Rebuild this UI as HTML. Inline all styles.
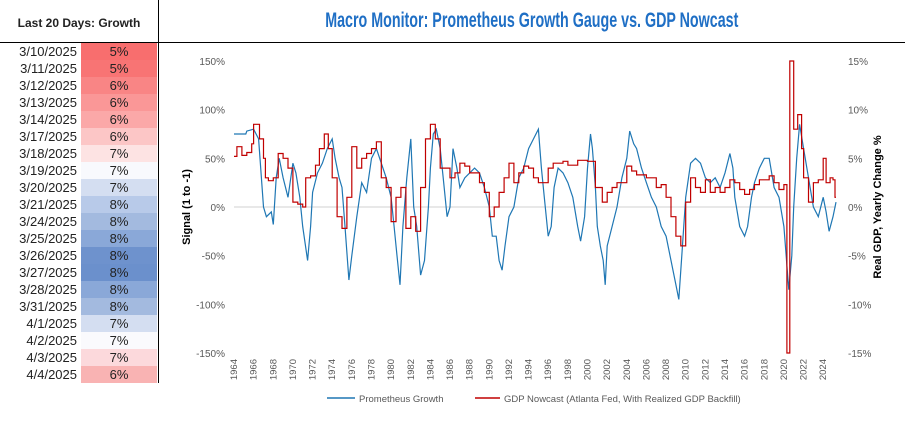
<!DOCTYPE html>
<html><head><meta charset="utf-8"><style>
html,body{margin:0;padding:0;background:#fff;width:905px;height:422px;overflow:hidden;font-family:"Liberation Sans",sans-serif;}
#wrap{position:relative;width:905px;height:422px;}
.row{position:absolute;left:0;width:158px;height:17px;font-size:13px;line-height:17px;color:#222;}
.row .d{position:absolute;left:0;width:77px;text-align:right;}
.row .v{position:absolute;left:81px;width:76px;height:17px;text-align:center;}
</style></head><body><div id="wrap">
<div style="position:absolute;left:0;top:16px;width:158px;text-align:center;font-weight:bold;font-size:12px;color:#222;">Last 20 Days: Growth</div>
<div style="position:absolute;left:0;top:42px;width:905px;height:1px;background:#000;"></div>
<div style="position:absolute;left:158px;top:0;width:1px;height:383px;background:#000;"></div>
<div style="position:absolute;left:159px;width:746px;top:9px;text-align:center;font-weight:bold;font-size:21px;color:#1f6fc5;"><span style="display:inline-block;transform:scaleX(0.68);transform-origin:center;white-space:nowrap;">Macro Monitor: Prometheus Growth Gauge vs. GDP Nowcast</span></div>
<div id="tbl"></div>
<svg id="ch" width="905" height="422" style="position:absolute;left:0;top:0;"></svg>
</div>
<script>
const dates=["3/10/2025","3/11/2025","3/12/2025","3/13/2025","3/14/2025","3/17/2025","3/18/2025","3/19/2025","3/20/2025","3/21/2025","3/24/2025","3/25/2025","3/26/2025","3/27/2025","3/28/2025","3/31/2025","4/1/2025","4/2/2025","4/3/2025","4/4/2025"];
const growthVals=["5%","5%","6%","6%","6%","6%","7%","7%","7%","8%","8%","8%","8%","8%","8%","8%","7%","7%","7%","6%"];
const cellColors=["#f86e6e","#f87474","#f98585","#fa9797","#fba8a8","#fcc6c6","#fde3e3","#f8f9fd","#d4def1","#b8cae9","#a3badf","#8aa8d8","#6e92cd","#6b90cc","#8aa8d8","#a3badf","#d4def1","#fafafd","#fcd9dc","#f9b3b3"];
const tbl=document.getElementById('tbl');
dates.forEach((d,i)=>{
 const r=document.createElement('div');r.className='row';r.style.top=(43+i*17)+'px';
 
 
 r.innerHTML='<span class="d">'+d+'</span><span class="v" style="background:'+cellColors[i]+'">'+growthVals[i]+'</span>';
 tbl.appendChild(r);
});

const blueYears=[1964,1965.2,1965.3,1966,1966.5,1967,1967.3,1967.8,1968,1968.3,1968.6,1969,1969.5,1970,1970.3,1970.7,1971,1971.5,1971.8,1972,1972.5,1973,1973.5,1974,1974.3,1974.7,1975,1975.3,1975.7,1976,1976.5,1977,1977.5,1978,1978.5,1979,1979.5,1980,1980.3,1980.6,1980.9,1981.2,1981.6,1982,1982.3,1982.6,1983,1983.4,1983.8,1984,1984.3,1984.6,1985,1985.3,1985.7,1986,1986.3,1986.7,1987,1987.5,1988,1988.5,1989,1989.5,1990,1990.3,1990.7,1991,1991.3,1991.6,1992,1992.5,1993,1993.5,1994,1994.5,1995,1995.3,1995.6,1996,1996.3,1996.6,1997,1997.5,1998,1998.5,1999,1999.3,1999.7,2000,2000.3,2000.5,2000.8,2001,2001.3,2001.6,2001.8,2002,2002.5,2003,2003.5,2004,2004.3,2004.7,2005,2005.5,2006,2006.5,2007,2007.5,2008,2008.5,2009,2009.3,2009.6,2010,2010.5,2011,2011.5,2012,2012.5,2013,2013.5,2014,2014.5,2014.8,2015,2015.5,2016,2016.3,2016.7,2017,2017.5,2018,2018.5,2019,2019.5,2020,2020.3,2020.5,2020.8,2021,2021.3,2021.6,2022,2022.5,2023,2023.5,2024,2024.3,2024.6,2025,2025.3];
const blueVals=[75,75,78,80,70,0,-10,-5,-18,30,50,30,10,45,35,10,-20,-55,-20,15,35,45,60,70,50,30,20,-20,-75,-50,-10,25,15,50,60,45,30,10,-20,-50,-80,-20,30,70,0,-20,-70,-55,0,40,75,80,60,30,-10,0,60,40,20,30,35,40,35,20,0,-30,-30,-55,-65,-40,-10,0,30,40,60,70,80,40,10,-30,-20,20,40,35,25,10,-20,-35,-10,40,75,60,20,-20,-40,-55,-80,-40,-20,0,30,50,78,65,60,40,25,10,0,-20,-30,-55,-80,-95,-50,10,45,50,45,30,25,30,20,35,55,40,10,-20,-30,-20,10,25,40,50,50,20,10,-20,-60,-85,-50,0,50,85,60,30,0,-10,10,-5,-25,-10,5];
const redYears=[1964,1964.3,1964.8,1965.3,1965.8,1966,1966.6,1967,1967.2,1967.5,1968,1968.5,1969,1969.5,1970,1970.5,1971,1971.3,1971.8,1972.3,1972.7,1973.2,1973.6,1974,1974.5,1975,1975.5,1976,1976.5,1977,1977.5,1978,1978.5,1979,1979.5,1980,1980.5,1981,1981.5,1982,1982.5,1983,1983.5,1984,1984.5,1985,1985.5,1986,1986.5,1987,1987.5,1988,1988.5,1989,1989.5,1990,1990.5,1991,1991.5,1992,1992.5,1993,1993.5,1994,1994.5,1995,1995.5,1996,1996.5,1997,1997.5,1998,1999,2000,2000.8,2001.5,2002,2002.5,2003,2004,2004.5,2005,2006,2007,2007.5,2008,2008.5,2009,2009.5,2010,2010.5,2011,2011.5,2012,2012.5,2013,2013.5,2014,2014.5,2015,2015.5,2016,2016.5,2017,2017.5,2018,2018.5,2019,2019.5,2020,2020.3,2020.6,2021,2021.4,2021.8,2022,2022.5,2023,2023.5,2024,2024.3,2024.7,2025,2025.2];
const redVals=[5.2,6.2,5.3,5.6,6.5,8.5,7,5,3,2.7,3,5.5,5,4,0.5,0.3,0,3,3.2,4.3,6,7.5,6,3,-1,-2.2,1,6.2,4,5,5.5,6,6.7,3,2,-1.5,1,2,-2.2,-1,-2.5,2,7,8.5,7,4,4,3,3.5,4.5,4.2,3.5,3.5,2.5,1.5,-1,0,1.5,3,4.5,2.5,3.5,4.2,4,3,2.5,2.5,4,4.5,4.5,4.7,4.3,4.8,4.7,2,0.5,1.5,2,2.5,4.2,3.7,3.3,3,2,2.3,1,-1,-3,-4,0.5,3,2,1.5,2.8,1.5,2,1.5,2,2.8,2.5,1.8,1.3,1.8,2.3,2.8,2.8,3.2,2.5,1.8,2.3,-15,15,8,9.5,6,3,0.5,2.5,2.8,5,2.5,3,2.8,1];
const leftTicks=["150%","100%","50%","0%","-50%","-100%","-150%"];
const leftTickVals=[150,100,50,0,-50,-100,-150];
const rightTicks=["15%","10%","5%","0%","-5%","-10%","-15%"];
const rightTickVals=[15,10,5,0,-5,-10,-15];
const xTickYears=[];for(let y=1964;y<=2024;y+=2)xTickYears.push(y);

const X=y=>234+(y-1964)*9.82;
const YL=v=>207-v*0.973;
const YR=v=>207-v*9.73;
const svg=document.getElementById('ch');const NS='http://www.w3.org/2000/svg';
function mk(tag,attrs,txt){const e=document.createElementNS(NS,tag);for(const k in attrs)e.setAttribute(k,attrs[k]);if(txt!==undefined)e.textContent=txt;svg.appendChild(e);return e;}
let e=mk('line',{x1:X(1964),x2:X(2025.3),y1:YL(0),y2:YL(0),stroke:'#d0d0d0','stroke-width':1});


leftTicks.forEach((t,i)=>{const el=mk('text',{x:225,y:YL(leftTickVals[i])+4,'text-anchor':'end','font-size':10,fill:'#595959'},t);

});
rightTicks.forEach((t,i)=>{const el=mk('text',{x:848,y:YR(rightTickVals[i])+4,'text-anchor':'start','font-size':10,fill:'#595959'},t);

});
xTickYears.forEach(y=>{const el=mk('text',{x:0,y:0,'text-anchor':'end','font-size':9.5,fill:'#595959',transform:'translate('+(X(y)+3)+',359) rotate(-90)'},String(y));

});
e=mk('text',{x:0,y:0,'text-anchor':'middle','font-size':11,'font-weight':'bold',fill:'#000',transform:'translate(190,207) rotate(-90)'},'Signal (1 to -1)');


e=mk('text',{x:0,y:0,'text-anchor':'middle','font-size':11,'font-weight':'bold',fill:'#000',transform:'translate(881,207) rotate(-90)'},'Real GDP, Yearly Change %');


let bp=blueYears.map((y,i)=>(i?'L':'M')+X(y).toFixed(1)+' '+YL(blueVals[i]).toFixed(1)).join('');
e=mk('path',{d:bp,fill:'none',stroke:'#1f77b4','stroke-width':1.2});


let rp='';redYears.forEach((y,i)=>{const px=X(y).toFixed(1),py=YR(redVals[i]).toFixed(1);
 if(i===0)rp='M'+px+' '+py;else rp+='L'+px+' '+YR(redVals[i-1]).toFixed(1)+'L'+px+' '+py;});
rp+='L'+X(2025.3).toFixed(1)+' '+YR(redVals[redVals.length-1]).toFixed(1);
e=mk('path',{d:rp,fill:'none',stroke:'#c00000','stroke-width':1.2});


e=mk('line',{x1:327,x2:355,y1:398,y2:398,stroke:'#1f77b4','stroke-width':1.5});


e=mk('text',{x:359,y:402,'font-size':9.5,fill:'#595959'},'Prometheus Growth');


e=mk('line',{x1:475,x2:500,y1:398,y2:398,stroke:'#c00000','stroke-width':1.5});


e=mk('text',{x:504,y:402,'font-size':9.5,fill:'#595959'},'GDP Nowcast (Atlanta Fed, With Realized GDP Backfill)');


</script></body></html>
